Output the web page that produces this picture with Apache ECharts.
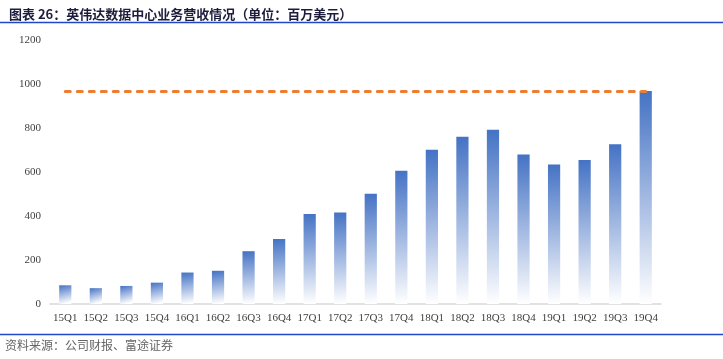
<!DOCTYPE html>
<html>
<head>
<meta charset="utf-8">
<script src="https://cdn.jsdelivr.net/npm/echarts@6/dist/echarts.min.js"></script>
<style>
html,body{margin:0;padding:0;background:#fff;}
#c{width:723px;height:359px;}
</style>
</head>
<body>
<div id="c"></div>
<script>
const titleText = '图表 26：英伟达数据中心业务营收情况（单位：百万美元）';
const sourceText = '资料来源：公司财报、富途证券';
const categories = ['15Q1','15Q2','15Q3','15Q4','16Q1','16Q2','16Q3','16Q4','17Q1','17Q2','17Q3','17Q4','18Q1','18Q2','18Q3','18Q4','19Q1','19Q2','19Q3','19Q4'];
const revenue = [85, 72, 82, 97, 143, 151, 240, 296, 409, 416, 501, 606, 701, 760, 792, 679, 634, 655, 726, 968];
const peakLevel = 968;
const yTicks = [0, 200, 400, 600, 800, 1000, 1200];

const chart = echarts.init(document.getElementById('c'), null, {renderer:'canvas'});
chart.setOption({
  animation: false,
  backgroundColor: '#fff',
  title: {
    text: titleText,
    left: 4, top: 3,
    textStyle: {fontFamily: '"Noto Sans CJK SC"', fontWeight: 'bold', fontSize: 13, color: '#1c1c3c'}
  },
  graphic: [
    {type:'line', shape:{x1:0,y1:22.5,x2:723,y2:22.5}, style:{stroke:'#1f47c8', lineWidth:1.5}},
    {type:'line', shape:{x1:0,y1:334.5,x2:723,y2:334.5}, style:{stroke:'#1f47c8', lineWidth:1.5}},
    {type:'text', left:5, top:339, style:{text: sourceText, font:'12px "Noto Sans CJK SC"', fill:'#666666'}}
  ],
  grid: {left: 50, right: 62, top: 40, bottom: 55},
  xAxis: {
    type: 'category',
    data: categories,
    axisLine: {lineStyle: {color: '#d9d9d9', width: 1.5}},
    axisTick: {show: false},
    axisLabel: {interval: 0, color: '#404040', fontFamily: '"Liberation Serif"', fontSize: 11, margin: 9}
  },
  yAxis: {
    type: 'value',
    min: yTicks[0], max: yTicks[yTicks.length-1], interval: 200,
    axisLine: {show: false},
    axisTick: {show: false},
    splitLine: {show: false},
    axisLabel: {color: '#404040', fontFamily: '"Liberation Serif"', fontSize: 11, margin: 9, formatter: v => String(v)}
  },
  series: [{
    type: 'bar',
    data: revenue,
    barWidth: '40%',
    itemStyle: {
      color: new echarts.graphic.LinearGradient(0, 0, 0.4, 1, [
        {offset: 0, color: '#4472C4'},
        {offset: 1, color: '#ffffff'}
      ])
    },
    markLine: {
      silent: true,
      symbol: ['none','none'],
      label: {show: false},
      lineStyle: {color: '#ED7D31', width: 3, type: [5, 7], cap: 'round'},
      data: [[{coord: [categories[0], peakLevel]}, {coord: [categories[categories.length-1], peakLevel]}]]
    }
  }]
});
</script>
</body>
</html>
